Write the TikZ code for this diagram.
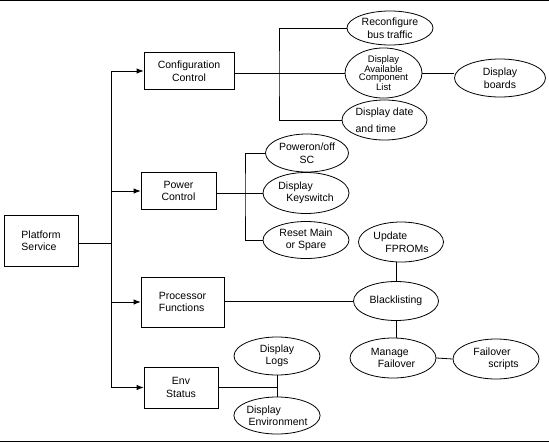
\documentclass[tikz,border=0pt]{standalone}
\usepackage{fontspec}
\setmainfont{Liberation Sans}
\usetikzlibrary{arrows.meta, shapes.geometric, calc}

\begin{document}
\begin{tikzpicture}[
    x=1pt, y=-1pt,
    >={Latex[length=7pt,width=5.5pt]},
    every node/.style={font=\fontsize{10.5}{12.5}\selectfont},
    box/.style ={draw, line width=0.8pt, align=center, inner sep=0pt},
    oval/.style={draw, ellipse, line width=0.8pt, align=center, inner sep=0pt,
                 minimum width=86pt, minimum height=39pt},
    link/.style={line width=0.8pt},
    flow/.style={->, line width=0.8pt},
]
\useasboundingbox (0,0) rectangle (549,442);
\draw[link] (0,0.8) -- (549,0.8);
\draw[link] (0,441) -- (549,441);

% main boxes
\node[box, align=left, minimum width=74pt, minimum height=51pt] (plat) at (41,240.5) {Platform\\Service};
\node[box, minimum width=90pt, minimum height=37pt] (conf)  at (189,71)    {Configuration\\Control};
\node[box, minimum width=75pt, minimum height=37pt] (power) at (178.5,191) {Power\\Control};
\node[box, align=left, minimum width=83pt, minimum height=50pt] (proc) at (182.5,302) {Processor\\Functions};
\node[box, minimum width=74pt, minimum height=41pt] (env)   at (181,387.5) {Env\\Status};

% configuration
\node[oval, minimum height=34pt] (reconf) at (390,28) {Reconfigure\\bus traffic};
\node[oval, minimum width=77pt, minimum height=48pt,
      font=\fontsize{9.5}{8.7}\selectfont] (dacl) at (383.5,73)
     {Display\\Available\\Component\\List};
\node[oval, minimum width=91pt, minimum height=38pt] (boards) at (500,78) {Display\\boards};
\node[oval, align=left, minimum width=85pt, minimum height=40pt,
      font=\fontsize{10.5}{17}\selectfont] (date) at (384.5,120) {Display date\\and time};

% power
\node[oval, minimum width=83pt, minimum height=38pt] (poweron) at (307,153) {Poweron/off\\SC};
\node[oval, align=left, minimum height=41pt] (keysw) at (306,193) {Display\\\hspace{8pt}Keyswitch};
\node[oval, minimum height=37pt] (reset) at (306,240) {Reset Main\\or Spare};

% processor
\node[oval, align=left, minimum width=85pt, minimum height=40pt] (fprom) at (401,242) {Update\\\hspace{12pt}FPROMs};
\node[oval, minimum width=85pt] (black) at (396,301) {Blacklisting};
\node[oval, align=left, minimum height=40pt] (manage) at (393,358) {Manage\\\hspace{7pt}Failover};
\node[oval, align=left, minimum height=40pt] (failscr) at (496,359) {Failover\\\hspace{15pt}scripts};

% env
\node[oval, minimum height=38pt] (logs) at (277,356) {Display\\Logs};
\node[oval, align=left, minimum height=37pt] (envdisp) at (277,415.5) {Display\\\hspace{2pt}Environment};

% trunk
\coordinate (tr) at (111,243);
\draw[link] (plat.east |- tr) -- (tr);
\draw[link] (conf.west -| tr) -- (env.west -| tr);
\draw[flow] (conf.west -| tr)  -- (conf.west);
\draw[flow] (power.west -| tr) -- (power.west);
\draw[flow] (proc.west -| tr)  -- (proc.west);
\draw[flow] (env.west -| tr)   -- (env.west);

% branches
\coordinate (cbr) at (279,73);
\draw[link] (conf.east |- dacl.west) -- (dacl.west);
\draw[link] (reconf.west) -| (cbr) |- (date.west);
\draw[link] (dacl.east) -- (dacl.east -| boards.west);

\coordinate (pbr) at (245,193);
\draw[link] (power.east |- keysw.west) -- (keysw.west);
\draw[link] (poweron.west) -| (pbr) |- (reset.west);

\draw[link] (proc.east |- black.west) -- (black.west);
\draw[link] (black.north) -- (black.north |- fprom.south);
\draw[link] (black.south) -- (black.south |- manage.north);
\draw[link] (manage.east) -- (failscr.west);

\draw[link] (env.east) -- (env.east -| logs.south);
\draw[link] (logs.south) -- (envdisp.north);
\end{tikzpicture}
\end{document}
